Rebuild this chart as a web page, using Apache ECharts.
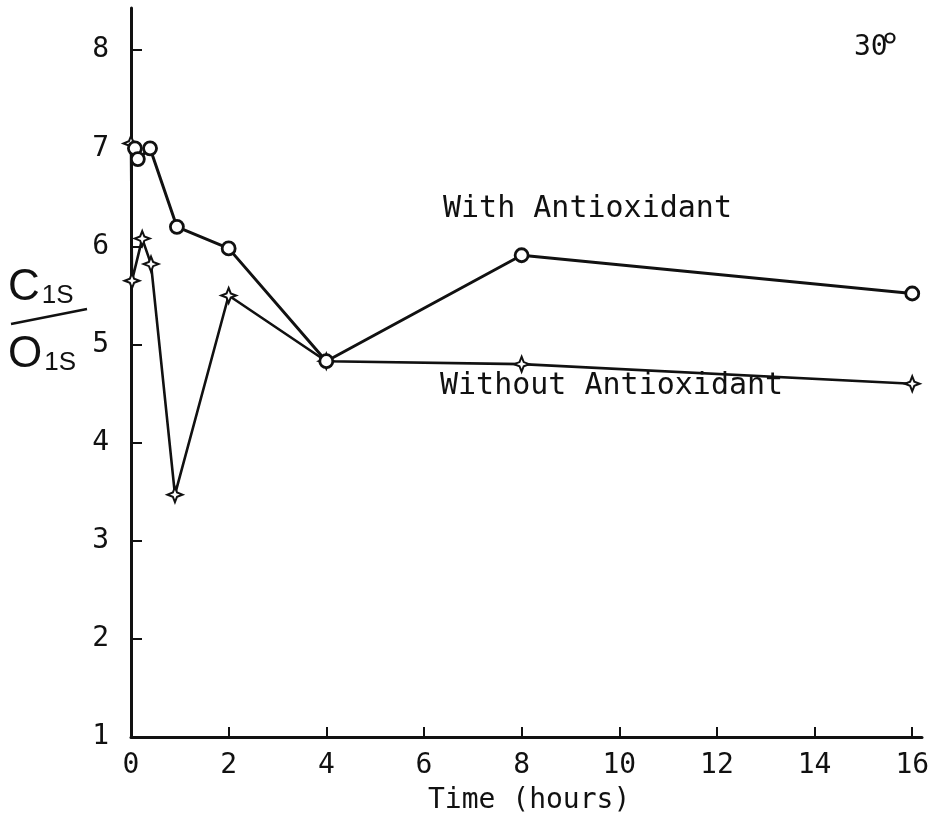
<!DOCTYPE html>
<html>
<head>
<meta charset="utf-8">
<script src="https://cdn.jsdelivr.net/npm/echarts@6/dist/echarts.min.js"></script>
<style>
  html, body { margin: 0; padding: 0; background: #fff; }
  #chart { width: 947px; height: 825px; }
</style>
</head>
<body>
<div id="chart"></div>
<script>
// C1s/O1s ratio against treatment time (hours), 30° take-off angle
const withAntioxidantTime  = [0.08, 0.14, 0.39, 0.94, 2, 4, 8, 16];
const withAntioxidantRatio = [7.00, 6.89, 7.00, 6.20, 5.98, 4.83, 5.91, 5.52];

const withoutAntioxidantTime  = [0, 0.02, 0.23, 0.41, 0.9, 2, 4, 8, 16];
const withoutAntioxidantRatio = [7.05, 5.65, 6.08, 5.82, 3.47, 5.50, 4.83, 4.80, 4.60];

const xTicks = [0, 2, 4, 6, 8, 10, 12, 14, 16];
const yTicks = [1, 2, 3, 4, 5, 6, 7, 8];

const FONT = "'DejaVu Sans Mono', monospace";
const SANS = "'Liberation Sans', sans-serif";
const INK = '#111';

const pairs = (xs, ys) => xs.map((x, i) => [x, ys[i]]);

// four-pointed hollow star used for the untreated series
const STAR = 'path://M0,-10 L2.8,-2.8 L10,0 L2.8,2.8 L0,10 L-2.8,2.8 L-10,0 L-2.8,-2.8 Z';

const chart = echarts.init(document.getElementById('chart'), null, { renderer: 'canvas' });

chart.setOption({
  backgroundColor: '#fff',
  animation: false,
  grid: { left: 131, right: 25, top: 8, bottom: 88, containLabel: false },
  xAxis: {
    type: 'value',
    min: 0,
    max: 16.2,
    splitLine: { show: false },
    axisLine: { lineStyle: { color: INK, width: 3 } },
    axisTick: { inside: true, length: 10, lineStyle: { color: INK, width: 2 }, customValues: xTicks },
    axisLabel: { color: INK, fontFamily: FONT, fontSize: 28, margin: 15, customValues: xTicks }
  },
  yAxis: {
    type: 'value',
    min: 1,
    max: 8.43,
    splitLine: { show: false },
    axisLine: { lineStyle: { color: INK, width: 3 } },
    axisTick: { inside: true, length: 11, lineStyle: { color: INK, width: 2 }, customValues: yTicks },
    axisLabel: { color: INK, fontFamily: FONT, fontSize: 28, margin: 22, customValues: yTicks }
  },
  series: [
    {
      name: 'With Antioxidant',
      type: 'line',
      data: pairs(withAntioxidantTime, withAntioxidantRatio),
      symbol: 'circle',
      symbolSize: 13,
      showAllSymbol: true,
      itemStyle: { color: '#fff', borderColor: INK, borderWidth: 2.8 },
      lineStyle: { color: INK, width: 3 },
      z: 3
    },
    {
      name: 'Without Antioxidant',
      type: 'line',
      data: pairs(withoutAntioxidantTime, withoutAntioxidantRatio),
      symbol: STAR,
      symbolSize: 15,
      showAllSymbol: true,
      itemStyle: { color: '#fff', borderColor: INK, borderWidth: 2 },
      lineStyle: { color: INK, width: 2.6 },
      z: 2
    }
  ],
  graphic: [
    { type: 'text', left: 443, top: 194,
      style: { text: 'With Antioxidant', fontFamily: FONT, fontSize: 30, fill: INK } },
    { type: 'text', left: 440, top: 371,
      style: { text: 'Without Antioxidant', fontFamily: FONT, fontSize: 30, fill: INK } },
    { type: 'text', left: 854, top: 34,
      style: { text: '30', fontFamily: FONT, fontSize: 28, fill: INK } },
    { type: 'circle', shape: { cx: 890, cy: 38, r: 4.5 },
      style: { fill: 'none', stroke: INK, lineWidth: 2.2 } },
    // y-axis title: C1s over O1s
    { type: 'text', left: 8, top: 266,
      style: { text: 'C{s|1S}', fontFamily: SANS, fontSize: 44, fill: INK,
        rich: { s: { fontFamily: SANS, fontSize: 26, fill: INK, padding: [16, 0, 0, 2] } } } },
    { type: 'line', shape: { x1: 11, y1: 324, x2: 87, y2: 309 },
      style: { stroke: INK, lineWidth: 2.5 } },
    { type: 'text', left: 8, top: 333,
      style: { text: 'O{s|1S}', fontFamily: SANS, fontSize: 44, fill: INK,
        rich: { s: { fontFamily: SANS, fontSize: 26, fill: INK, padding: [16, 0, 0, 2] } } } },
    { type: 'text', left: 428, top: 787,
      style: { text: 'Time (hours)', fontFamily: FONT, fontSize: 28, fill: INK } }
  ]
});
</script>
</body>
</html>
